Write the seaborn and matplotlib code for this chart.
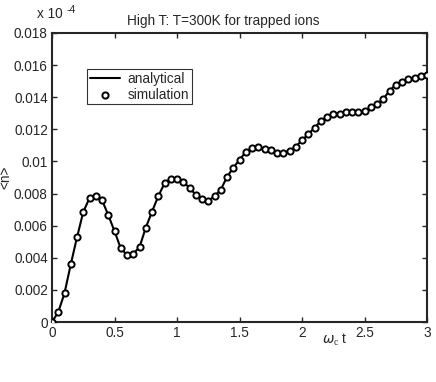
import numpy as np
import pandas as pd
import matplotlib
matplotlib.use("Agg")
import matplotlib.pyplot as plt
import seaborn as sns

# time grid (omega_c t) and <n> values
t = [0.00, 0.05, 0.10, 0.15, 0.20, 0.25, 0.30, 0.35, 0.40, 0.45,
     0.50, 0.55, 0.60, 0.65, 0.70, 0.75, 0.80, 0.85, 0.90, 0.95,
     1.00, 1.05, 1.10, 1.15, 1.20, 1.25, 1.30, 1.35, 1.40, 1.45,
     1.50, 1.55, 1.60, 1.65, 1.70, 1.75, 1.80, 1.85, 1.90, 1.95,
     2.00, 2.05, 2.10, 2.15, 2.20, 2.25, 2.30, 2.35, 2.40, 2.45,
     2.50, 2.55, 2.60, 2.65, 2.70, 2.75, 2.80, 2.85, 2.90, 2.95, 3.00]
n_sim = [0.00000, 0.00062, 0.00179, 0.00359, 0.00527, 0.00685, 0.00772, 0.00785, 0.00760, 0.00666,
         0.00566, 0.00459, 0.00417, 0.00425, 0.00466, 0.00587, 0.00687, 0.00783, 0.00864, 0.00893,
         0.00893, 0.00874, 0.00835, 0.00793, 0.00766, 0.00755, 0.00783, 0.00824, 0.00903, 0.00961,
         0.01010, 0.01059, 0.01082, 0.01090, 0.01080, 0.01070, 0.01053, 0.01055, 0.01065, 0.01092,
         0.01132, 0.01169, 0.01210, 0.01250, 0.01279, 0.01297, 0.01296, 0.01306, 0.01308, 0.01308,
         0.01314, 0.01339, 0.01360, 0.01389, 0.01440, 0.01478, 0.01497, 0.01512, 0.01522, 0.01530, 0.01540]
n_ana = n_sim

x_ticks = [0, 0.5, 1, 1.5, 2, 2.5, 3]
x_tick_labels = ["0", "0.5", "1", "1.5", "2", "2.5", "3"]
y_ticks = [0, 0.002, 0.004, 0.006, 0.008, 0.01, 0.012, 0.014, 0.016, 0.018]
y_tick_labels = ["0", "0.002", "0.004", "0.006", "0.008", "0.01", "0.012", "0.014", "0.016", "0.018"]

df = pd.DataFrame({"t": t, "sim": n_sim, "ana": n_ana})

sns.set_style("ticks")
plt.rcParams['font.family'] = ['Liberation Sans', 'DejaVu Sans']
plt.rcParams['mathtext.fontset'] = 'custom'
plt.rcParams['mathtext.rm'] = 'Liberation Serif'

fs = 9.8
fig = plt.figure(figsize=(4.36, 3.82), dpi=100)
ax = fig.add_axes([52 / 436, 1 - 322 / 382, 375 / 436, 289 / 382])

sns.lineplot(data=df, x="t", y="ana", ax=ax, color="black", linewidth=1.5,
             label="analytical", zorder=2)
sns.scatterplot(data=df, x="t", y="sim", ax=ax, marker="o", s=20,
                facecolor="white", edgecolor="black", linewidth=1.4,
                label="simulation", zorder=3)

ax.set_xlim(0, 3)
ax.set_ylim(0, 0.018)
ax.set_xticks(x_ticks)
ax.set_xticklabels(x_tick_labels)
ax.set_yticks(y_ticks)
ax.set_yticklabels(y_tick_labels)
ax.tick_params(direction="in", top=True, right=True, length=3.5, width=1,
               labelsize=fs, pad=3)
for sp in ax.spines.values():
    sp.set_linewidth(1.5)

ax.set_xlabel("")
ax.set_ylabel("<n>", fontsize=fs, labelpad=1)
fig.text(223 / 436, 1 - 21 / 382, "High T: T=300K for trapped ions",
         fontsize=fs, ha="center", va="center")
fig.text(335 / 436, 1 - 340 / 382, r"$\omega_{\rm c}$ t", fontsize=fs,
         ha="center", va="center")
fig.text(37 / 436, 1 - 14 / 382, "x 10", fontsize=fs, ha="left", va="center")
fig.text(67 / 436, 1 - 10 / 382, "-4", fontsize=7.5, ha="left", va="center")

leg = ax.legend(loc="upper left", bbox_to_anchor=(35 / 375, 1 - 36 / 289),
                frameon=True, fancybox=False, fontsize=fs, borderpad=0.2,
                handlelength=2.2, labelspacing=0.15, borderaxespad=0,
                handletextpad=0.6)
leg.get_frame().set_edgecolor("black")
leg.get_frame().set_linewidth(0.8)

fig.savefig("out.png", dpi=100, facecolor="white")
